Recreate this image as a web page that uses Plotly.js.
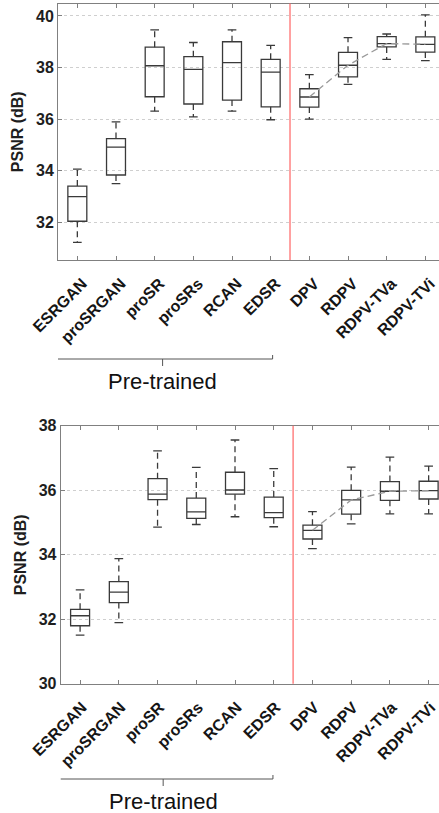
<!DOCTYPE html>
<html><head><meta charset="utf-8">
<script src="https://cdn.plot.ly/plotly-3.0.1.min.js"></script>
<style>html,body{margin:0;padding:0;overflow:hidden;background:#fff;}#chart{width:448px;height:813px;}</style>
</head><body><div id="chart"></div>
<script>
const categories = ["ESRGAN","proSRGAN","proSR","proSRs","RCAN","EDSR","DPV","RDPV","RDPV-TVa","RDPV-TVi"];
const positions = [1,2,3,4,5,6,7,8,9,10];
// Top panel
const topLower  = [31.23,33.51,36.31,36.09,36.31,35.98,36.00,37.35,38.32,38.27];
const topQ1     = [32.05,33.84,36.87,36.59,36.74,36.48,36.47,37.64,38.80,38.60];
const topMedian = [33.00,34.92,38.07,37.93,38.19,37.82,36.86,38.09,38.93,38.90];
const topQ3     = [33.41,35.25,38.79,38.42,39.00,38.32,37.18,38.59,39.20,39.19];
const topUpper  = [34.07,35.90,39.46,38.97,39.46,38.86,37.73,39.16,39.30,40.04];
// Bottom panel
const botLower  = [31.51,31.90,34.86,34.94,35.18,34.87,34.19,34.96,35.27,35.27];
const botQ1     = [31.80,32.52,35.71,35.13,35.88,35.15,34.49,35.26,35.69,35.73];
const botMedian = [32.11,32.84,35.88,35.33,36.01,35.31,34.76,35.70,35.97,35.99];
const botQ3     = [32.31,33.17,36.36,35.76,36.56,35.79,34.92,36.00,36.27,36.28];
const botUpper  = [32.91,33.88,37.22,36.71,37.56,36.67,35.34,36.72,37.03,36.75];
const yTicksTop = [32,34,36,38,40];
const yTicksBot = [30,32,34,36,38];
const groupLabel = "Pre-trained";
const yTitle = "PSNR (dB)";

const boxColor = '#3a3a3a';
const capHalf = 0.112;

function panel(lower,q1,med,q3,upper,xa,ya){
  const traces = [];
  traces.push({type:'box', x:positions, q1:q1, median:med, q3:q3, lowerfence:q1, upperfence:q3,
    width:0.49, whiskerwidth:0, line:{color:boxColor,width:1.3}, fillcolor:'rgba(0,0,0,0)',
    xaxis:xa, yaxis:ya, hoverinfo:'skip', showlegend:false, boxpoints:false});
  const wx=[], wy=[], cx=[], cy=[];
  positions.forEach((p,i)=>{
    wx.push(p,p,null,p,p,null); wy.push(q3[i],upper[i],null,q1[i],lower[i],null);
    cx.push(p-capHalf,p+capHalf,null,p-capHalf,p+capHalf,null); cy.push(upper[i],upper[i],null,lower[i],lower[i],null);
  });
  traces.push({type:'scatter',mode:'lines',x:wx,y:wy,line:{color:boxColor,width:1.3,dash:'6px,4px'},xaxis:xa,yaxis:ya,hoverinfo:'skip',showlegend:false,connectgaps:false});
  traces.push({type:'scatter',mode:'lines',x:cx,y:cy,line:{color:boxColor,width:1.3},xaxis:xa,yaxis:ya,hoverinfo:'skip',showlegend:false,connectgaps:false});
  traces.push({type:'scatter',mode:'lines',x:positions.slice(6),y:med.slice(6),line:{color:'#9a9a9a',width:1.3,dash:'7px,4px'},xaxis:xa,yaxis:ya,hoverinfo:'skip',showlegend:false});
  return traces;
}
const data = [].concat(
  panel(topLower,topQ1,topMedian,topQ3,topUpper,'x','y'),
  panel(botLower,botQ1,botMedian,botQ3,botUpper,'x2','y2')
);

const fontFam = '"Liberation Sans", Arial, sans-serif';
function xax(domain,shift){
  return {domain:domain, range:[0.5,10.5], tickmode:'array', tickvals:positions, ticktext:categories,
    tickangle:-45, tickfont:{family:fontFam,size:16,color:'#151515',weight:700},
    ticklabelshift:shift, ticklabelstandoff:7,
    ticks:'inside', ticklen:4, tickcolor:'#808080', showline:true, linecolor:'#808080', linewidth:1,
    mirror:'ticks', showgrid:false, zeroline:false, automargin:false, fixedrange:true};
}
function yax(domain,range,tv,anchor){
  return {domain:domain, range:range, tickmode:'array', tickvals:tv, anchor:anchor,
    tickfont:{family:fontFam,size:16,color:'#1e1e1e',weight:700},
    ticks:'inside', ticklen:4, tickcolor:'#808080', showline:true, linecolor:'#808080', linewidth:1,
    mirror:'ticks', showgrid:true, gridcolor:'#cfcfcf', griddash:'dot', gridwidth:1, zeroline:false,
    automargin:false, fixedrange:true,
    title:{text:yTitle, font:{family:fontFam,size:16,color:'#1e1e1e',weight:700}, standoff:8}};
}
const H = 813;
function py(px){ return 1 - px/H; }

const layout = {
  width:448, height:813, margin:{l:58,r:0,t:0,b:0}, paper_bgcolor:'#fff', plot_bgcolor:'#fff',
  showlegend:false,
  xaxis: Object.assign(xax([0,0.9915],5),{anchor:'y'}),
  yaxis: yax([py(260),py(3.5)],[30.55,40.48],yTicksTop,'x'),
  xaxis2: Object.assign(xax([0.007,1],2),{anchor:'y2'}),
  yaxis2: yax([py(683.8),py(425.8)],[30,38],yTicksBot,'x2'),
  shapes:[
    {type:'line',xref:'x',yref:'y domain',x0:6.5,x1:6.5,y0:0,y1:1,line:{color:'#ff6464',width:1.2}},
    {type:'line',xref:'x2',yref:'y2 domain',x0:6.5,x1:6.5,y0:0,y1:1,line:{color:'#ff6464',width:1.2}}
  ],
  annotations:[]
};
function bracket(xref,x0,x1,yLine){
  const xc=(x0+x1)/2;
  const y=py(yLine), yu=py(yLine-4), yd=py(yLine+7);
  layout.shapes.push({type:'path',xref:xref,yref:'paper',
    path:`M ${x0},${yu} L ${x0},${y} L ${x1},${y} L ${x1},${yu} M ${xc},${y} L ${xc},${yd}`,
    line:{color:'#555',width:1}});
  layout.annotations.push({xref:xref,yref:'paper',x:xc,y:py(yLine+22),text:groupLabel,showarrow:false,
    font:{family:fontFam,size:22,color:'#111'},xanchor:'center',yanchor:'middle'});
}
bracket('x',0.36,6.05,359);
bracket('x2',0.31,5.98,779);

Plotly.newPlot('chart',data,layout,{staticPlot:true,displayModeBar:false});
</script></body></html>
